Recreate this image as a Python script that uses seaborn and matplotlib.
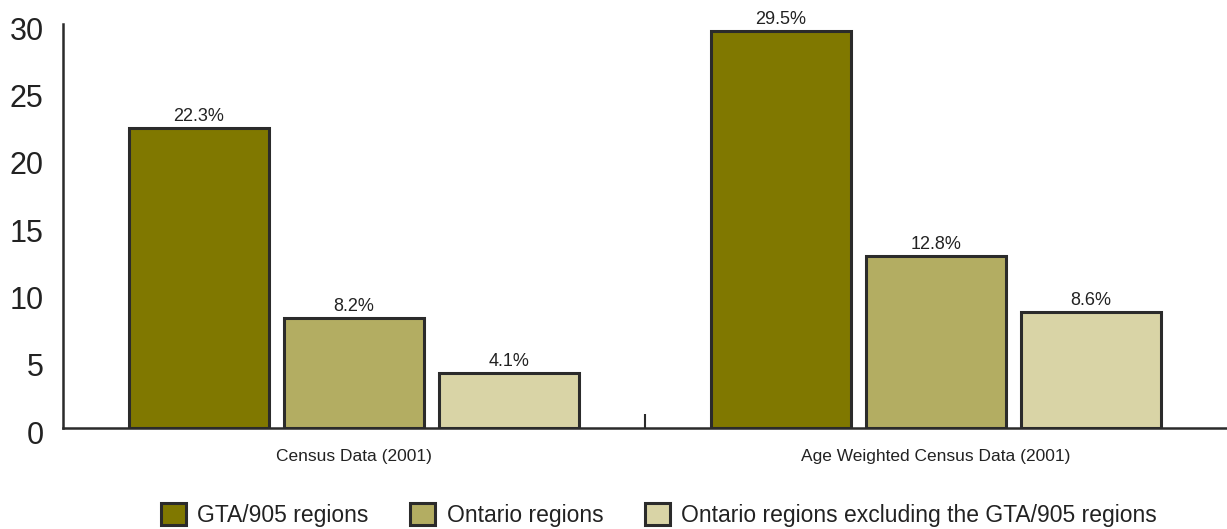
import matplotlib
matplotlib.use("Agg")
import matplotlib.pyplot as plt
import matplotlib.transforms as mtransforms
import seaborn as sns
import pandas as pd
from matplotlib.patches import Patch

categories = ["Census Data (2001)", "Age Weighted Census Data (2001)"]
series_names = ["GTA/905 regions", "Ontario regions",
                "Ontario regions excluding the GTA/905 regions"]
gta_values = [22.3, 29.5]
ontario_values = [8.2, 12.8]
ontario_excl_values = [4.1, 8.6]
y_ticks = [0, 5, 10, 15, 20, 25, 30]
colors = ["#807800", "#B3AD62", "#D9D4A6"]
edge = "#2b2b2b"

rows = []
for name, vals in zip(series_names, [gta_values, ontario_values, ontario_excl_values]):
    for cat, v in zip(categories, vals):
        rows.append({"category": cat, "series": name, "value": v})
df = pd.DataFrame(rows)

sns.set_style("white")
plt.rcParams["font.family"] = ["Liberation Sans", "DejaVu Sans"]

fig = plt.figure(figsize=(12.27, 5.29), dpi=100)
ax = fig.add_axes([0.0513, 0.1909, 0.9487, 0.7637])

sns.barplot(data=df, x="category", y="value", hue="series",
            order=categories, hue_order=series_names,
            palette=colors, saturation=1, width=0.8, gap=0.1,
            edgecolor=edge, linewidth=2.2, errorbar=None, ax=ax, legend=False)

for container in ax.containers:
    ax.bar_label(container, labels=[f"{v:.1f}%" for v in container.datavalues],
                 padding=2, fontsize=13, color="#222222")

ax.set_xlim(-0.5, 1.5)
ax.set_ylim(0, 30)
ax.set_yticks(y_ticks)
ax.set_yticklabels([str(t) for t in y_ticks], fontsize=22, color="#222222")
ax.tick_params(axis="y", length=0, pad=14)
shift = mtransforms.ScaledTranslation(0, -4 / 100, fig.dpi_scale_trans)
for lbl in ax.get_yticklabels():
    lbl.set_transform(lbl.get_transform() + shift)

ax.set_xticks([0, 1])
ax.set_xticklabels(categories, fontsize=12.5, color="#222222")
ax.tick_params(axis="x", which="major", length=0, pad=15)
ax.set_xlabel("")
ax.set_ylabel("")

# separator tick between the two groups
ax.set_xticks([0.5], minor=True)
ax.tick_params(axis="x", which="minor", bottom=True, direction="in",
               length=10, width=1.5, color="#2b2b2b")

for side in ["top", "right"]:
    ax.spines[side].set_visible(False)
for side in ["left", "bottom"]:
    ax.spines[side].set_color("#2b2b2b")
    ax.spines[side].set_linewidth(1.8)

handles = [Patch(facecolor=c, edgecolor=edge, linewidth=2.2) for c in colors]
fig.legend(handles, series_names, loc="center", bbox_to_anchor=(0.537, 0.027),
           ncol=3, frameon=False, fontsize=16.5, handlelength=1.1, handleheight=1.1,
           handletextpad=0.5, columnspacing=1.8, labelcolor="#222222")

fig.savefig("out.png", dpi=100)
